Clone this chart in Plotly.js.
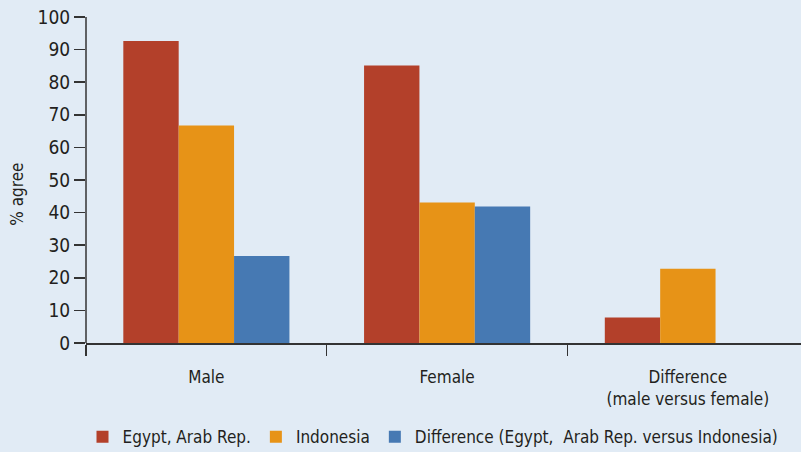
<!DOCTYPE html>
<html>
<head>
<meta charset="utf-8">
<script src="https://cdn.plot.ly/plotly-3.0.1.min.js"></script>
<style>html,body{margin:0;padding:0;background:#e1ebf5;}#chart{width:801px;height:452px;}</style>
</head>
<body>
<div id="chart"></div>
<script>
const categories = ["Male", "Female", "Difference<br>(male versus female)"];
const seriesNames = ["Egypt, Arab Rep.", "Indonesia", "Difference (Egypt,  Arab Rep. versus Indonesia)"];
const egypt = [92.6, 85.1, 7.8];
const indonesia = [66.7, 43.1, 22.8];
const difference = [26.7, 41.9, null];
const yTicks = [0, 10, 20, 30, 40, 50, 60, 70, 80, 90, 100];

const colors = ["#b3402a", "#e79317", "#4679b3"];
const FONT = "'Liberation Sans Narrow', 'DejaVu Sans Condensed', 'Arial Narrow', sans-serif";

const data = [egypt, indonesia, difference].map((vals, i) => ({
  type: "bar",
  x: categories,
  y: vals,
  name: seriesNames[i],
  marker: {color: colors[i], line: {width: 0}},
  hoverinfo: "none"
}));

const layout = {
  width: 801,
  height: 452,
  paper_bgcolor: "#e1ebf5",
  plot_bgcolor: "#e1ebf5",
  font: {family: FONT, size: 17, color: "#231f20"},
  margin: {l: 86, r: 0, t: 17, b: 109, autoexpand: false},
  barmode: "group",
  bargap: 0.31,
  bargroupgap: 0,
  showlegend: true,
  legend: {
    orientation: "h",
    xref: "container", yref: "container",
    x: 0.103, xanchor: "left",
    y: 0.033, yanchor: "middle",
    font: {family: FONT, size: 17, color: "#231f20"},
    bgcolor: "rgba(0,0,0,0)",
    traceorder: "normal",
    itemwidth: 30
  },
  xaxis: {
    type: "category",
    range: [-0.5, 2.47],
    tickson: "boundaries",
    ticks: "outside",
    ticklen: 11,
    tickcolor: "#333",
    tickwidth: 1.5,
    showline: true,
    linecolor: "#333",
    linewidth: 1.5,
    showgrid: false,
    zeroline: false,
    automargin: false,
    ticklabelstandoff: 18,
    tickfont: {family: FONT, size: 17, color: "#231f20"},
    fixedrange: true
  },
  yaxis: {
    range: [0, 100],
    tickvals: yTicks,
    ticktext: yTicks.map(String),
    ticks: "outside",
    ticklen: 11,
    tickcolor: "#333",
    tickwidth: 1.5,
    showline: false,
    showgrid: false,
    zeroline: false,
    automargin: false,
    tickfont: {family: FONT, size: 19, color: "#231f20"},
    fixedrange: true
  },
  annotations: [{
    text: "% agree",
    xref: "paper", yref: "paper",
    x: -0.0965, y: 0.455,
    xanchor: "center", yanchor: "middle",
    textangle: -90,
    showarrow: false,
    font: {family: FONT, size: 17, color: "#231f20"}
  }],
  shapes: [{
    type: "line", xref: "paper", yref: "paper",
    x0: 0, x1: 0, y0: 0, y1: 1,
    line: {color: "#333", width: 1.5}
  }]
};

Plotly.newPlot("chart", data, layout, {displayModeBar: false, staticPlot: true});
</script>
</body>
</html>
